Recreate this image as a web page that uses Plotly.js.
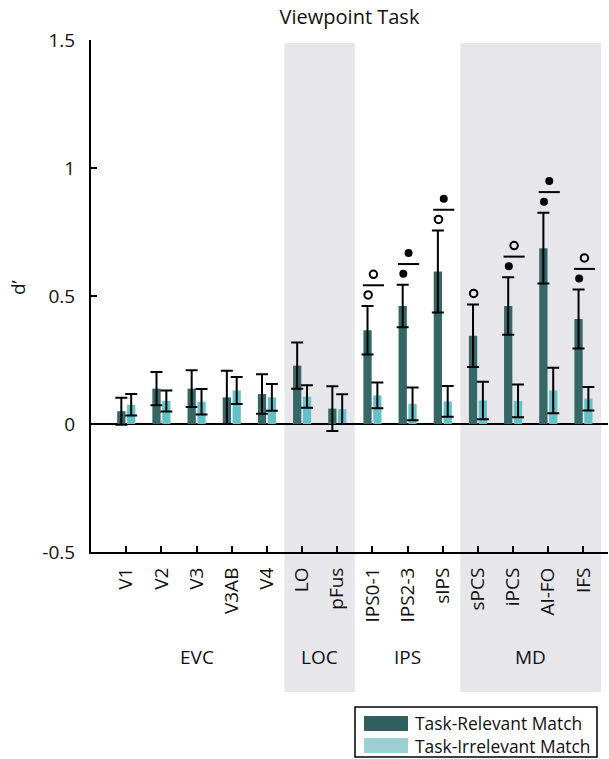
<!DOCTYPE html>
<html>
<head>
<meta charset="utf-8">
<script src="https://cdn.plot.ly/plotly-3.0.1.min.js"></script>
<style>html,body{margin:0;padding:0;background:#fff;}#chart{width:609px;height:759px;}</style>
</head>
<body>
<div id="chart"></div>
<script>
// ---- data ----
const categories = ['V1','V2','V3','V3AB','V4','LO','pFus','IPS0-1','IPS2-3','sIPS','sPCS','iPCS','AI-FO','IFS'];
const relevant      = [0.050, 0.138, 0.138, 0.104, 0.117, 0.228, 0.060, 0.366, 0.461, 0.596, 0.345, 0.461, 0.687, 0.410];
const relevantErr   = [0.053, 0.065, 0.072, 0.104, 0.077, 0.090, 0.087, 0.095, 0.083, 0.160, 0.122, 0.112, 0.138, 0.115];
const irrelevant    = [0.075, 0.090, 0.087, 0.131, 0.104, 0.107, 0.058, 0.112, 0.079, 0.088, 0.092, 0.090, 0.131, 0.099];
const irrelevantErr = [0.042, 0.041, 0.050, 0.053, 0.052, 0.044, 0.058, 0.050, 0.064, 0.060, 0.073, 0.064, 0.089, 0.046];
// significance: marker above task-relevant bar, and marker for the relevant-vs-irrelevant difference
const sigRelevant   = ['', '', '', '', '', '', '', 'open', 'filled', 'open', 'open', 'filled', 'filled', 'filled'];
const sigDifference = ['', '', '', '', '', '', '', 'open', 'filled', 'filled', '', 'open', 'filled', 'open'];
const groupNames  = ['EVC', 'LOC', 'IPS', 'MD'];
const groupFirst  = [0, 5, 7, 10];
const groupLast   = [4, 6, 9, 13];
const groupShaded = [false, true, false, true];
const seriesNames = ['Task-Relevant Match', 'Task-Irrelevant Match'];
const yTickVals = [-0.5, 0, 0.5, 1, 1.5];
const yTickText = ['-0.5', '0', '0.5', '1', '1.5'];

// ---- styling / layout constants ----
const FONT = '"Open Sans", sans-serif';
const DARK = '#356767', LIGHT = '#63c2c8';
const LEG_DARK = '#2f5f5f', LEG_LIGHT = '#9bd0d4';
const W = 609, H = 759, ML = 91, MR = 1, MT = 40, MB = 207;
const plotH = H - MT - MB;
const yMin = -0.5, yMax = 1.5;
const perPx = (yMax - yMin) / plotH;
const xs = categories.map((_, i) => i);

const BW = 0.235, OFF_D = -0.255, OFF_L = 0.025;

const traces = [
  {type: 'bar', x: xs, y: relevant, name: seriesNames[0], offset: OFF_D, width: BW,
   marker: {color: DARK}, showlegend: false,
   error_y: {type: 'data', array: relevantErr, visible: true, color: '#000', thickness: 2, width: 6}},
  {type: 'bar', x: xs, y: irrelevant, name: seriesNames[1], offset: OFF_L, width: BW,
   marker: {color: LIGHT}, showlegend: false,
   error_y: {type: 'data', array: irrelevantErr, visible: true, color: '#000', thickness: 2, width: 6}}
];

// significance markers derived from data
const filled = {x: [], y: []}, open = {x: [], y: []}, lines = {x: [], y: []};
xs.forEach(i => {
  const top = relevant[i] + relevantErr[i];
  const mY = top + 11 * perPx;
  if (sigRelevant[i]) {
    const tgt = sigRelevant[i] === 'filled' ? filled : open;
    tgt.x.push(i - 0.12); tgt.y.push(mY);
  }
  if (sigDifference[i]) {
    const lY = mY + 9.7 * perPx;
    lines.x.push(i - 0.27, i + 0.33, null); lines.y.push(lY, lY, null);
    const uY = lY + 11 * perPx;
    const tgt = sigDifference[i] === 'filled' ? filled : open;
    tgt.x.push(i + 0.03); tgt.y.push(uY);
  }
});
traces.push({type: 'scatter', mode: 'lines', x: lines.x, y: lines.y, line: {color: '#000', width: 2}, showlegend: false, hoverinfo: 'skip'});
traces.push({type: 'scatter', mode: 'markers', x: filled.x, y: filled.y, marker: {symbol: 'circle', size: 8, color: '#000'}, showlegend: false});
traces.push({type: 'scatter', mode: 'markers', x: open.x, y: open.y, marker: {symbol: 'circle-open', size: 7.5, color: '#000', line: {width: 2}}, showlegend: false});

const pxToPaperY = py => (H - MB - py) / plotH;
const pxToPaperX = px => (px - ML) / (W - ML - MR);

const shapes = [];
const annotations = [];
groupNames.forEach((g, k) => {
  if (groupShaded[k]) {
    shapes.push({type: 'rect', layer: 'below', xref: 'x', yref: 'paper',
      x0: groupFirst[k] - 0.5, x1: groupLast[k] + 0.5,
      y0: pxToPaperY(692), y1: pxToPaperY(43),
      fillcolor: '#e6e6eb', line: {width: 0}});
  }
  annotations.push({xref: 'x', yref: 'paper', x: (groupFirst[k] + groupLast[k]) / 2, y: pxToPaperY(657),
    text: g, showarrow: false, font: {family: FONT, size: 19, color: '#111'}, xanchor: 'center', yanchor: 'middle'});
});
// y title
annotations.push({xref: 'paper', yref: 'paper', x: pxToPaperX(18), y: pxToPaperY(288), text: 'd’', textangle: -90,
  showarrow: false, font: {family: FONT, size: 19, color: '#111'}, xanchor: 'center', yanchor: 'middle'});
// legend (manual box)
shapes.push({type: 'rect', xref: 'paper', yref: 'paper', x0: pxToPaperX(355), x1: pxToPaperX(597),
  y0: pxToPaperY(757), y1: pxToPaperY(707), line: {color: '#000', width: 1.5}, fillcolor: 'rgba(0,0,0,0)'});
[[LEG_DARK, 716, 731, 723, seriesNames[0]], [LEG_LIGHT, 738, 753, 745.5, seriesNames[1]]].forEach(([c, a, b, t, name]) => {
  shapes.push({type: 'rect', xref: 'paper', yref: 'paper', x0: pxToPaperX(364), x1: pxToPaperX(408),
    y0: pxToPaperY(b), y1: pxToPaperY(a), fillcolor: c, line: {width: 0}});
  annotations.push({xref: 'paper', yref: 'paper', x: pxToPaperX(413), y: pxToPaperY(t), text: name, showarrow: false,
    xanchor: 'left', yanchor: 'middle', font: {family: FONT, size: 17.4, color: '#111'}});
});

const layout = {
  width: W, height: H,
  margin: {l: ML, r: MR, t: MT, b: MB, pad: 0},
  paper_bgcolor: '#fff', plot_bgcolor: 'rgba(0,0,0,0)',
  barmode: 'overlay',
  showlegend: false,
  title: {text: 'Viewpoint Task', x: 0.5, xref: 'paper', y: 1 - 17 / H, yanchor: 'middle', font: {family: FONT, size: 20, color: '#111'}},
  xaxis: {range: [-1, 13.7], tickmode: 'array', tickvals: xs, ticktext: categories, tickangle: -90,
    ticks: 'inside', ticklen: 6, tickwidth: 2, tickcolor: '#000', showline: true, linecolor: '#000', linewidth: 2,
    showgrid: false, zeroline: false, fixedrange: true, ticklabelstandoff: 6,
    tickfont: {family: FONT, size: 19, color: '#111'}},
  yaxis: {range: [yMin, yMax], tickmode: 'array', tickvals: yTickVals, ticktext: yTickText,
    ticks: 'inside', ticklen: 6, tickwidth: 2, tickcolor: '#000', showline: true, linecolor: '#000', linewidth: 2,
    showgrid: false, zeroline: true, zerolinecolor: '#000', zerolinewidth: 2, fixedrange: true, ticklabelstandoff: 10,
    tickfont: {family: FONT, size: 19, color: '#111'}},
  shapes: shapes,
  annotations: annotations
};

Plotly.newPlot('chart', traces, layout, {displayModeBar: false, staticPlot: true});
</script>
</body>
</html>
